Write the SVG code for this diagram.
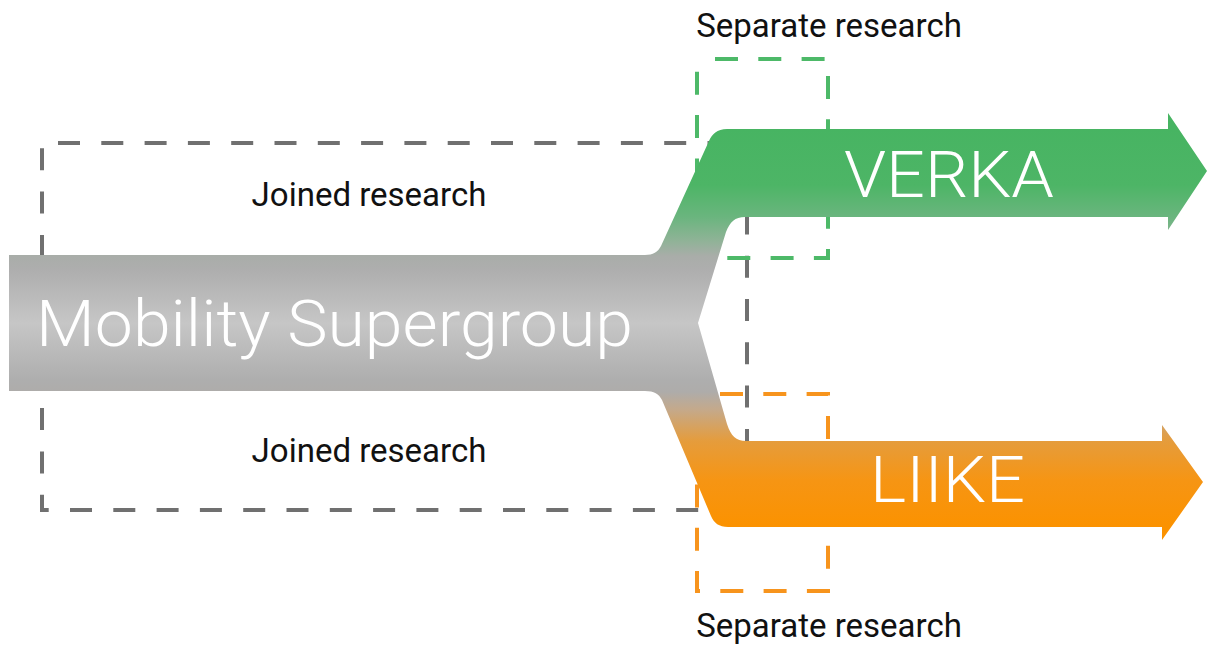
<svg xmlns="http://www.w3.org/2000/svg" width="1207" height="645" viewBox="0 0 1207 645">
  <defs>
    <linearGradient id="flowGrad" gradientUnits="userSpaceOnUse" x1="0" y1="113" x2="0" y2="555">
      <stop offset="0.036" stop-color="#47B462"/>
      <stop offset="0.163" stop-color="#4DB566"/>
      <stop offset="0.235" stop-color="#6AB57E"/>
      <stop offset="0.287" stop-color="#8EB396"/>
      <stop offset="0.324" stop-color="#A9ADA9"/>
      <stop offset="0.355" stop-color="#AEAEAE"/>
      <stop offset="0.475" stop-color="#C6C6C6"/>
      <stop offset="0.604" stop-color="#AEAEAE"/>
      <stop offset="0.631" stop-color="#AEACAA"/>
      <stop offset="0.672" stop-color="#C5A98A"/>
      <stop offset="0.742" stop-color="#E59C3C"/>
      <stop offset="0.830" stop-color="#F69514"/>
      <stop offset="0.937" stop-color="#FB9200"/>
    </linearGradient>
  </defs>
  <style>
    .box { fill: none; stroke-width: 4; }
    .gray { stroke: #707070; stroke-dasharray: 22 21.3; stroke-dashoffset: 25.8; }
    .green { stroke: #4DB968; stroke-dasharray: 23 20.3; stroke-dashoffset: 25.3; }
    .orange { stroke: #F7941D; stroke-dasharray: 23 20.3; stroke-dashoffset: 20.3; }
    .label { font-family: Roboto, "Liberation Sans", sans-serif; font-size: 33px; fill: #111111; text-anchor: middle; }
    .big { font-family: Roboto, "Liberation Sans", sans-serif; font-weight: 300; font-size: 64px; fill: #FFFFFF; }
  </style>

  <g id="joined-box">
    <path class="box gray" d="M747,143 H42 V510 H747 Z"/>
    <text class="label" x="369" y="206">Joined research</text>
    <text class="label" x="369" y="462">Joined research</text>
  </g>

  <g id="verka-separate">
    <rect class="box green" x="697" y="59" width="131" height="199"/>
    <text class="label" x="829" y="37">Separate research</text>
  </g>

  <g id="liike-separate">
    <path class="box orange" d="M697,394 H828 V591 H697 Z"/>
    <text class="label" x="829" y="637">Separate research</text>
  </g>

  <g id="connectors">
    <path id="flow" fill="url(#flowGrad)" d="M9,255 L645,255 C653,255 658,252 661,246 L709,141 C712,134 717,129 727,129 L1168,129 L1168,113 L1207,171 L1168,230 L1168,217 L745,217 C735,217 730,222 726,232 L698,323 L727,424 C731,436 736,441 746,441 L1162,441 L1162,425 L1203,482 L1162,540 L1162,527 L728,527 C719,527 714,523 711,516 L662,400 C659,394 654,391 645,391 L9,391 Z"/>
  </g>

  <g id="mobility-supergroup">
    <text class="big" x="36" y="346" textLength="597" lengthAdjust="spacingAndGlyphs">Mobility Supergroup</text>
  </g>
  <g id="verka">
    <text class="big" x="844" y="197" textLength="210" lengthAdjust="spacingAndGlyphs">VERKA</text>
  </g>
  <g id="liike">
    <text class="big" x="870" y="502" textLength="155" lengthAdjust="spacingAndGlyphs">LIIKE</text>
  </g>
</svg>
